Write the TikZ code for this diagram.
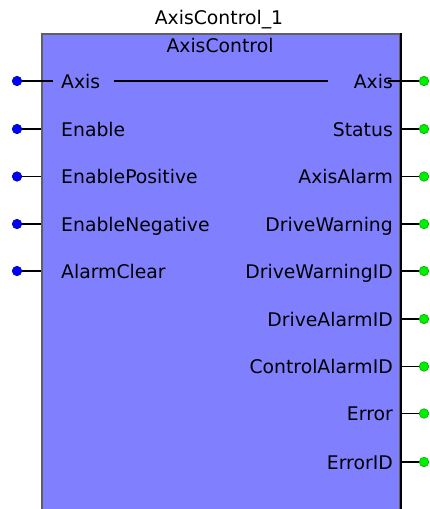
\documentclass[tikz,border=0pt]{standalone}
\usepackage{fontspec}
\setmainfont{DejaVu Sans}
\usepackage{tikz}
\usepackage{xcolor}
\usetikzlibrary{positioning, calc}

\definecolor{fbfill}{HTML}{8080FF}
\definecolor{fbedge}{HTML}{606060}
\definecolor{pinblue}{HTML}{0000FF}
\definecolor{pingreen}{HTML}{00F000}

\begin{document}
\begin{tikzpicture}[
  x=1pt, y=-1pt,
  every node/.style={font=\fontsize{18.8}{22}\selectfont, inner sep=0pt},
  fb/.style={draw=fbedge, fill=fbfill, line width=2pt, minimum width=358pt, minimum height=490pt},
  inpin/.style={circle, fill=pinblue, draw=pinblue!70!black, line width=0.6pt, minimum size=9.5pt},
  outpin/.style={circle, fill=pingreen, draw=pingreen!70!black, line width=0.6pt, minimum size=9.5pt},
  pinline/.style={line width=1.8pt, black},
  inlbl/.style={anchor=base west},
  outlbl/.style={anchor=base east}
]
\useasboundingbox (0,0) rectangle (429,509);
\clip (0,0) rectangle (429,509);

% Function block body
\node[fb] (fb) at (221,279) {};
\draw[line width=2.2pt, black] (fb.north east) -- (fb.south east);
\node[anchor=base] (inst) at (219,24) {AxisControl\_1};
\node[anchor=base] (type) at (220,52) {AxisControl};

% Inputs
\node[inpin] (inAxis) at (17,81) {};
\node[inpin] (inEnable) at (17,129) {};
\node[inpin] (inEnPos) at (17,176.5) {};
\node[inpin] (inEnNeg) at (17,224) {};
\node[inpin] (inClear) at (17,271) {};
\node[inlbl] (lAxis) at (61,88) {Axis};
\node[inlbl] (lEnable) at (61,136) {Enable};
\node[inlbl] (lEnPos) at (61,183.5) {EnablePositive};
\node[inlbl] (lEnNeg) at (61,231) {EnableNegative};
\node[inlbl] (lClear) at (61,278) {AlarmClear};
\draw[pinline] (inAxis) -- ([xshift=-8pt]lAxis.west |- inAxis);
\draw[pinline] (inEnable) -- (inEnable -| fb.west);
\draw[pinline] (inEnPos) -- (inEnPos -| fb.west);
\draw[pinline] (inEnNeg) -- (inEnNeg -| fb.west);
\draw[pinline] (inClear) -- (inClear -| fb.west);

% Outputs
\node[outpin] (outAxis) at (424,81) {};
\node[outpin] (outStatus) at (424,129) {};
\node[outpin] (outAlarm) at (424,176.5) {};
\node[outpin] (outWarn) at (424,224) {};
\node[outpin] (outWarnID) at (424,271) {};
\node[outpin] (outDrvID) at (424,319) {};
\node[outpin] (outCtlID) at (424,366.5) {};
\node[outpin] (outErr) at (424,413.5) {};
\node[outpin] (outErrID) at (424,462) {};
\node[outlbl] (rAxis) at (393,88) {Axis};
\node[outlbl] (rStatus) at (393,136) {Status};
\node[outlbl] (rAlarm) at (393,183.5) {AxisAlarm};
\node[outlbl] (rWarn) at (393,231) {DriveWarning};
\node[outlbl] (rWarnID) at (393,278) {DriveWarningID};
\node[outlbl] (rDrvID) at (393,326) {DriveAlarmID};
\node[outlbl] (rCtlID) at (393,373.5) {ControlAlarmID};
\node[outlbl] (rErr) at (393,420.5) {Error};
\node[outlbl] (rErrID) at (393,469) {ErrorID};
\draw[pinline] (outAxis) -- ([xshift=-5pt]rAxis.east |- outAxis);
\draw[pinline] (outStatus) -- (outStatus -| fb.east);
\draw[pinline] (outAlarm) -- (outAlarm -| fb.east);
\draw[pinline] (outWarn) -- (outWarn -| fb.east);
\draw[pinline] (outWarnID) -- (outWarnID -| fb.east);
\draw[pinline] (outDrvID) -- (outDrvID -| fb.east);
\draw[pinline] (outCtlID) -- (outCtlID -| fb.east);
\draw[pinline] (outErr) -- (outErr -| fb.east);
\draw[pinline] (outErrID) -- (outErrID -| fb.east);

% In-out link
\draw[pinline] ([xshift=14pt]lAxis.east |- inAxis) -- ([xshift=-26pt]rAxis.west |- outAxis);

\end{tikzpicture}
\end{document}
